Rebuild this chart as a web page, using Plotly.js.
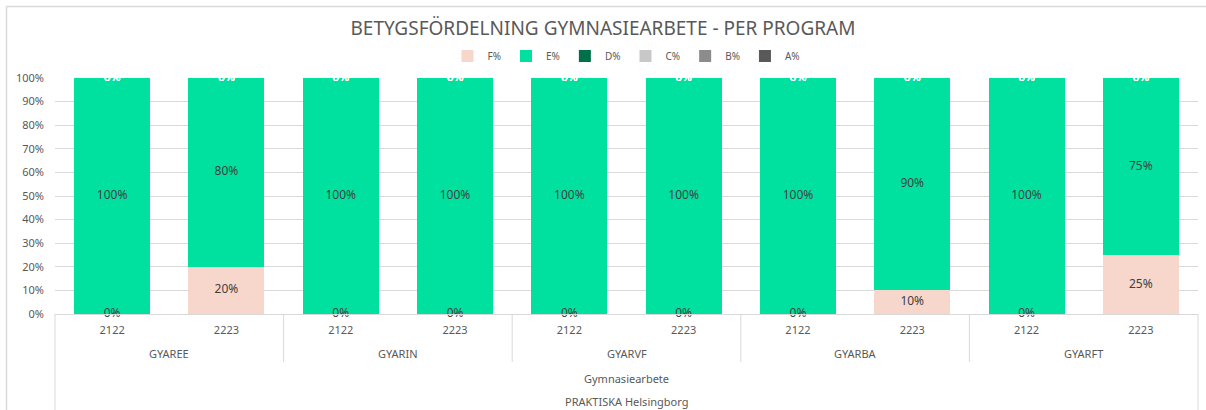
<!DOCTYPE html>
<html>
<head>
<meta charset="utf-8">
<script src="https://cdn.plot.ly/plotly-3.0.1.min.js"></script>
<style>html,body{margin:0;padding:0;background:#fff;}#chart{width:1206px;height:410px;}</style>
</head>
<body>
<div id="chart"></div>
<script>
const programs = ['GYAREE','GYAREE','GYARIN','GYARIN','GYARVF','GYARVF','GYARBA','GYARBA','GYARFT','GYARFT'];
const years = ['2122','2223','2122','2223','2122','2223','2122','2223','2122','2223'];
const seriesNames = ['F%','E%','D%','C%','B%','A%'];
const F = [0,20,0,0,0,0,0,10,0,25];
const E = [100,80,100,100,100,100,100,90,100,75];
const D = [0,0,0,0,0,0,0,0,0,0];
const C = [0,0,0,0,0,0,0,0,0,0];
const B = [0,0,0,0,0,0,0,0,0,0];
const A = [0,0,0,0,0,0,0,0,0,0];
const yTickVals = [0,10,20,30,40,50,60,70,80,90,100];
const yTickText = ['0%','10%','20%','30%','40%','50%','60%','70%','80%','90%','100%'];
const levelLabels = ['Gymnasiearbete','PRAKTISKA Helsingborg'];
const chartTitle = 'BETYGSFÖRDELNING GYMNASIEARBETE - PER PROGRAM';

const colors = ['#F7D7CC','#00E09F','#00704A','#C8C8C8','#8C8C8C','#595959'];
const labelColors = ['#404040','#404040','#ffffff','#ffffff','#ffffff','#ffffff'];
const FONT = 'Noto Sans, DejaVu Sans, sans-serif';
const GRID = '#D9D9D9';

const cats = programs.map((p,j)=>p+' '+years[j]);
const series = [F,E,D,C,B,A];
const traces = [];
const textTraces = [];
const base = new Array(F.length).fill(0);
series.forEach((vals,i)=>{
  traces.push({
    type:'bar', name:seriesNames[i], x:cats, y:vals,
    marker:{color:colors[i], line:{width:0}}, hoverinfo:'skip'
  });
  const mids = vals.map((v,j)=>base[j]+v/2);
  textTraces.push({
    type:'scatter', mode:'text', x:cats, y:mids, showlegend:false,
    text:vals.map(v=>v+'%'), textposition:'middle center',
    textfont:{family:FONT,size:12,color:labelColors[i]},
    cliponaxis:false, hoverinfo:'skip'
  });
  vals.forEach((v,j)=>base[j]+=v);
});

const W=1206, H=410, L=55, R=8, T=78, Bm=96;
const pw = W-L-R, ph = H-T-Bm;
const px = v => (v-L)/pw;
const py = v => (H-Bm-v)/ph;

// group program labels and dividers from the data
const groups = [];
programs.forEach((p,j)=>{
  if(!groups.length || groups[groups.length-1].name!==p) groups.push({name:p,start:j,end:j});
  else groups[groups.length-1].end=j;
});
const annotations = groups.map(g=>({
  text:g.name, xref:'x', yref:'paper', x:(g.start+g.end)/2, y:py(353),
  xanchor:'center', yanchor:'middle', showarrow:false,
  font:{family:FONT,size:11,color:'#595959'}
}));
annotations.push(
  {text:levelLabels[0], xref:'paper', yref:'paper', x:0.5, y:py(378), xanchor:'center', yanchor:'middle',
   showarrow:false, font:{family:FONT,size:11,color:'#595959'}},
  {text:levelLabels[1], xref:'paper', yref:'paper', x:0.5, y:py(401), xanchor:'center', yanchor:'middle',
   showarrow:false, font:{family:FONT,size:11,color:'#595959'}}
);
const shapes = groups.slice(1).map(g=>({
  type:'line', xref:'x', yref:'paper', x0:g.start-0.5, x1:g.start-0.5, y0:0, y1:py(362),
  line:{color:GRID,width:1}
}));
shapes.push(
  {type:'line', xref:'paper', yref:'paper', x0:0, x1:0, y0:0, y1:py(412), line:{color:GRID,width:1}},
  {type:'line', xref:'paper', yref:'paper', x0:1, x1:1, y0:0, y1:py(412), line:{color:GRID,width:1}},
  {type:'line', xref:'paper', yref:'paper', x0:px(6.5), x1:px(1210), y0:py(6.5), y1:py(6.5), line:{color:GRID,width:1.5}},
  {type:'line', xref:'paper', yref:'paper', x0:px(6.5), x1:px(6.5), y0:py(6.5), y1:py(412), line:{color:GRID,width:1.5}}
);

const layout = {
  width:W, height:H,
  margin:{l:L,r:R,t:T,b:Bm,pad:0},
  paper_bgcolor:'#fff', plot_bgcolor:'#fff',
  barmode:'stack', bargap:0.335,
  font:{family:FONT,color:'#595959'},
  title:{text:chartTitle, x:0.5, xanchor:'center', y:1-28/H, yanchor:'middle',
         font:{family:FONT,size:19,color:'#595959'}},
  showlegend:true,
  legend:{orientation:'h', x:0.5, xanchor:'center', y:py(56), yanchor:'middle',
          font:{family:FONT,size:10,color:'#595959'}, itemwidth:30, traceorder:'normal'},
  xaxis:{type:'category', showgrid:false, showline:true, linecolor:GRID, linewidth:1,
         ticks:'', tickvals:cats, ticktext:years, ticklabelstandoff:6,
         tickfont:{family:FONT,size:11,color:'#595959'}, zeroline:false},
  yaxis:{range:[0,100], tickmode:'array', tickvals:yTickVals, ticktext:yTickText,
         showgrid:true, gridcolor:GRID, gridwidth:1, zeroline:false, showline:false,
         ticks:'', ticklabelstandoff:10, tickfont:{family:FONT,size:11,color:'#595959'}},
  annotations:annotations,
  shapes:shapes
};

Plotly.newPlot('chart', traces.concat(textTraces), layout, {displayModeBar:false, staticPlot:true});
</script>
</body>
</html>
